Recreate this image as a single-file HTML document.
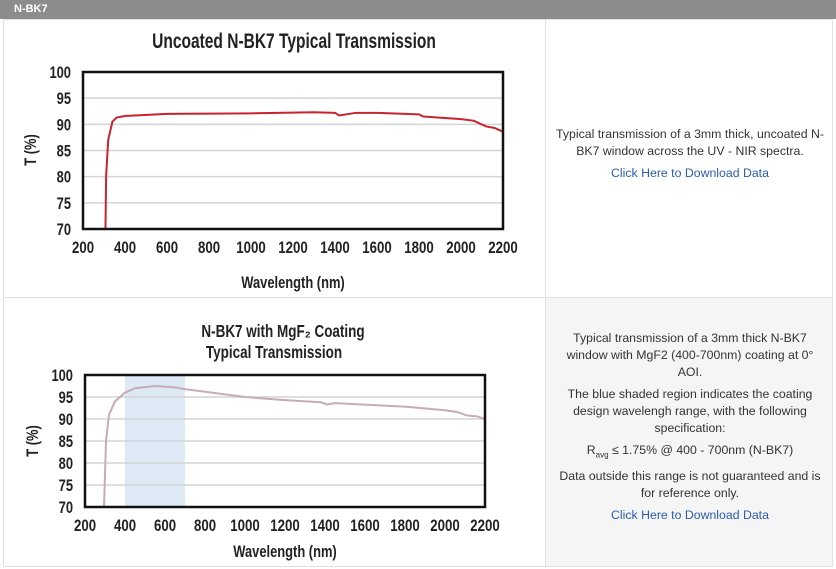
<!DOCTYPE html>
<html><head><meta charset="utf-8"><style>
body{margin:0;width:836px;height:569px;background:#fff;font-family:"Liberation Sans",sans-serif;overflow:hidden;position:relative}
.hdr{position:absolute;left:0;top:0;width:836px;height:19px;background:#8c8c8e;color:#fff;font-weight:bold;font-size:11px;line-height:19px;padding-left:14px;box-sizing:border-box}
.cell{position:absolute;box-sizing:border-box;border:1px solid #e2e2e2}
.txt{font-size:12.3px;color:#333;text-align:center;line-height:17px}
.txt p{margin:0 0 5px 0}
a{color:#2a5db0;text-decoration:none}
svg text{font-family:"Liberation Sans",sans-serif;font-weight:bold;fill:#222}
</style></head><body>
<div class="hdr">N-BK7</div>
<div class="cell" style="left:3px;top:19px;width:543px;height:279px"></div>
<div class="cell" style="left:545px;top:19px;width:288px;height:279px"></div>
<div class="cell" style="left:3px;top:297px;width:543px;height:270px"></div>
<div class="cell" style="left:545px;top:297px;width:288px;height:270px;background:#f5f5f5"></div>
<div class="txt" style="position:absolute;left:555px;top:126px;width:270px">
<p>Typical transmission of a 3mm thick, uncoated N-BK7 window across the UV - NIR spectra.</p>
<p><a href="#">Click Here to Download Data</a></p></div>
<div class="txt" style="position:absolute;left:558px;top:330px;width:264px">
<p>Typical transmission of a 3mm thick N-BK7 window with MgF2 (400-700nm) coating at 0° AOI.</p>
<p>The blue shaded region indicates the coating design wavelengh range, with the following specification:</p>
<p>R<sub style="font-size:8px">avg</sub> ≤ 1.75% @ 400 - 700nm (N-BK7)</p>
<p>Data outside this range is not guaranteed and is for reference only.</p>
<p><a href="#">Click Here to Download Data</a></p></div>
<svg id="s" width="836" height="569" style="position:absolute;left:0;top:0"></svg>
<script>
const xTicks=[200,400,600,800,1000,1200,1400,1600,1800,2000,2200];
const yTicks=[70,75,80,85,90,95,100];
const wl1=[307,310,320,340,360,400,600,1000,1300,1400,1420,1500,1600,1800,1820,2000,2060,2120,2160,2200];
const t1=[70,80,87,90.5,91.3,91.6,92,92.1,92.3,92.2,91.7,92.2,92.2,91.9,91.5,91,90.7,89.6,89.3,88.6];
const wl2=[295,305,320,350,400,450,550,650,700,800,1000,1200,1380,1410,1450,1800,2000,2060,2110,2160,2200];
const t2=[70,85,91,94,96,97,97.5,97.2,96.8,96.2,95,94.3,93.8,93.3,93.6,92.8,92,91.6,90.8,90.6,90];
const band=[400,700];
const S=document.getElementById('s');const NS='http://www.w3.org/2000/svg';
function mk(t,a,txt){const e=document.createElementNS(NS,t);for(const k in a)e.setAttribute(k,a[k]);if(txt!=null)e.textContent=txt;S.appendChild(e);return e;}
function ntext(x,y,size,anchor,txt,sc){return mk('text',{x:0,y:0,'text-anchor':anchor,'font-size':size,transform:'translate('+x+' '+y+') scale('+(sc||0.72)+' 1)'},txt);}
function chart(id,L,R,T,B,wl,tv,color,bandOn){
 const sx=v=>L+(v-200)/2000*(R-L), sy=v=>B-(v-70)/30*(B-T);
 if(bandOn){const r=mk('rect',{x:sx(band[0]),y:T,width:sx(band[1])-sx(band[0]),height:B-T,fill:'#dde9f5'});
  
  }
 yTicks.forEach(v=>{if(v>70&&v<100){const g=mk('line',{x1:L,x2:R,y1:sy(v),y2:sy(v),stroke:'#d4d4d4','stroke-width':1.5});
  
  }
  const t=ntext(L-12,sy(v)+6,17,'end',v,0.76);
  
  });
 xTicks.forEach(v=>{const t=ntext(sx(v),B+24,17,'middle',v,0.78);
  
  });
 const p=mk('polyline',{points:wl.map((w,i)=>sx(w)+','+sy(tv[i])).join(' '),fill:'none',stroke:color,'stroke-width':2});
 
 
 const b=mk('rect',{x:L,y:T,width:R-L,height:B-T,fill:'none',stroke:'#111','stroke-width':2.5});
 
 
}
chart('chart1',83,503,72,229,wl1,t1,'#c8242f',false);
chart('chart2',85,485,375,507,wl2,t2,'#c8acb2',true);
function lbl(x,y,s,txt,name,rot,sc){const t=ntext(x,y,s,'middle',txt,sc);
 if(rot)t.setAttribute('transform','translate('+x+' '+y+') rotate(-90) scale(0.76 1)');
 
 }
lbl(294,48,21,'Uncoated N-BK7 Typical Transmission','chart1-title',false,0.74);
lbl(293,288,17,'Wavelength (nm)','chart1-x-axis-title',false,0.76);
lbl(36,150,17,'T (%)','chart1-y-axis-title',true);
lbl(283,337,18,'N-BK7 with MgF\u2082 Coating','chart2-title-line1',false,0.75);
lbl(274,358,18,'Typical Transmission','chart2-title-line2',false,0.75);
lbl(285,557,17,'Wavelength (nm)','chart2-x-axis-title',false,0.76);
lbl(38,441,17,'T (%)','chart2-y-axis-title',true);
</script>
</body></html>
